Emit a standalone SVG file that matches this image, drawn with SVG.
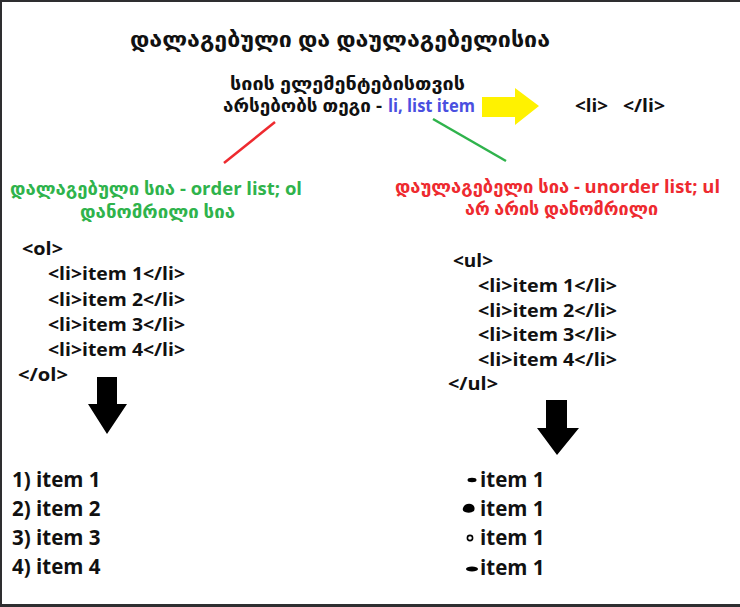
<svg xmlns="http://www.w3.org/2000/svg" width="740" height="607" viewBox="0 0 740 607">
<style>
text{font-family:"Open Sans","DejaVu Sans",sans-serif;font-weight:bold;fill:#111}
.t{font-size:22px}
.m{font-size:18px}
.c{font-size:18px}
.r{font-size:20.5px}
.g{fill:#2fb34c}
.red{fill:#ee2a2f}
.b{fill:#4a4fe0}
</style>
<rect width="740" height="607" fill="#fff"/>
<g id="frame" fill="#2e2e30">
<rect x="0" y="0" width="740" height="2"/>
<rect x="0" y="0" width="2" height="607"/>
<rect x="0" y="604" width="740" height="3"/>
</g>
<g id="title"><text class="t" x="130" y="47" textLength="420" lengthAdjust="spacingAndGlyphs">დალაგებული და დაულაგებელისია</text></g>
<g id="li-info">
<text class="m" x="230" y="90" textLength="235" lengthAdjust="spacingAndGlyphs">სიის ელემენტებისთვის</text>
<text class="m" x="223" y="112" textLength="159" lengthAdjust="spacingAndGlyphs">არსებობს თეგი -</text>
<text class="b" x="388" y="112" font-size="17" textLength="87" lengthAdjust="spacingAndGlyphs">li, list item</text>
</g>
<g id="yellow-arrow"><polygon points="482,97 515,97 515,88 539,106 515,125 515,117 482,117" fill="#fff200"/></g>
<g id="li-tag">
<text x="575" y="112" font-size="18" textLength="33" lengthAdjust="spacingAndGlyphs">&lt;li&gt;</text>
<text x="623" y="112" font-size="18" textLength="42" lengthAdjust="spacingAndGlyphs">&lt;/li&gt;</text>
</g>
<g id="connectors">
<line x1="275" y1="122" x2="224" y2="163" stroke="#ee2a2f" stroke-width="2.5"/>
<line x1="433" y1="119" x2="506" y2="161" stroke="#2fb34c" stroke-width="2.5"/>
</g>
<g id="ordered-label">
<text class="m g" x="10" y="195" textLength="292" lengthAdjust="spacingAndGlyphs">დალაგებული სია - order list; ol</text>
<text class="m g" x="80" y="218" textLength="155" lengthAdjust="spacingAndGlyphs">დანომრილი სია</text>
</g>
<g id="unordered-label">
<text class="m red" x="395" y="193" textLength="325" lengthAdjust="spacingAndGlyphs">დაულაგებელი სია - unorder list; ul</text>
<text class="m red" x="465" y="215" textLength="193" lengthAdjust="spacingAndGlyphs">არ არის დანომრილი</text>
</g>
<g id="ol-code">
<text class="c" x="22" y="255" textLength="41" lengthAdjust="spacingAndGlyphs">&lt;ol&gt;</text>
<text class="c" x="48" y="280" textLength="137" lengthAdjust="spacingAndGlyphs">&lt;li&gt;item 1&lt;/li&gt;</text>
<text class="c" x="48" y="306" textLength="137" lengthAdjust="spacingAndGlyphs">&lt;li&gt;item 2&lt;/li&gt;</text>
<text class="c" x="48" y="331" textLength="137" lengthAdjust="spacingAndGlyphs">&lt;li&gt;item 3&lt;/li&gt;</text>
<text class="c" x="48" y="356" textLength="137" lengthAdjust="spacingAndGlyphs">&lt;li&gt;item 4&lt;/li&gt;</text>
<text class="c" x="18" y="381" textLength="50" lengthAdjust="spacingAndGlyphs">&lt;/ol&gt;</text>
</g>
<g id="ul-code">
<text class="c" x="453" y="267" textLength="40" lengthAdjust="spacingAndGlyphs">&lt;ul&gt;</text>
<text class="c" x="478" y="292" textLength="139" lengthAdjust="spacingAndGlyphs">&lt;li&gt;item 1&lt;/li&gt;</text>
<text class="c" x="478" y="317" textLength="139" lengthAdjust="spacingAndGlyphs">&lt;li&gt;item 2&lt;/li&gt;</text>
<text class="c" x="478" y="341" textLength="139" lengthAdjust="spacingAndGlyphs">&lt;li&gt;item 3&lt;/li&gt;</text>
<text class="c" x="478" y="366" textLength="139" lengthAdjust="spacingAndGlyphs">&lt;li&gt;item 4&lt;/li&gt;</text>
<text class="c" x="448" y="390" textLength="50" lengthAdjust="spacingAndGlyphs">&lt;/ul&gt;</text>
</g>
<g id="left-arrow"><polygon points="97,377 117,377 117,404 127,404 107,434 88,404 97,404" fill="#000"/></g>
<g id="right-arrow"><polygon points="546,400 567,400 567,428 579,428 557,455 537,428 546,428" fill="#000"/></g>
<g id="ol-result">
<text class="r" x="12" y="487">1) item 1</text>
<text class="r" x="12" y="516">2) item 2</text>
<text class="r" x="12" y="545">3) item 3</text>
<text class="r" x="12" y="574">4) item 4</text>
</g>
<g id="ul-result">
<ellipse cx="472" cy="480" rx="4.5" ry="2.2" fill="#000"/>
<path d="M463,508 Q465,503 471,504 Q476,506 474,511 Q470,514 465,512 Q462,511 463,508 Z" fill="#000"/>
<circle cx="470" cy="538" r="2.6" fill="none" stroke="#000" stroke-width="1.6"/>
<ellipse cx="472" cy="569" rx="6" ry="2.6" fill="#000"/>
<text class="r" x="480" y="487" font-size="21">item 1</text>
<text class="r" x="480" y="516" font-size="21">item 1</text>
<text class="r" x="480" y="545" font-size="21">item 1</text>
<text class="r" x="480" y="575" font-size="21">item 1</text>
</g>
</svg>
